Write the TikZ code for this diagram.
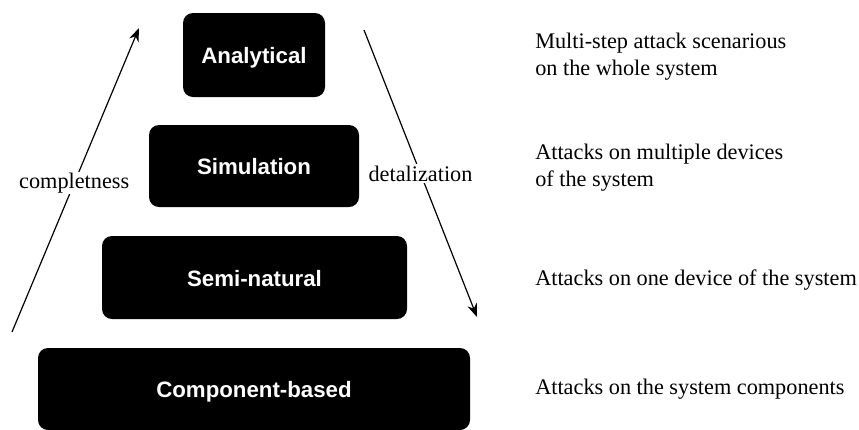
\documentclass[tikz,border=0pt]{standalone}
\usepackage{fontspec}
\setmainfont{Liberation Serif}
\setsansfont{Liberation Sans}
\usetikzlibrary{arrows.meta}
\begin{document}
\begin{tikzpicture}[x=0.75pt,y=-0.75pt,
    level/.style={fill=black,text=white,rounded corners=7.5pt,inner sep=0pt,
        text height=13pt,text depth=0pt,
        font=\sffamily\bfseries\fontsize{16.7}{20}\selectfont},
    note/.style={anchor=west,align=left,inner sep=0pt,
        font=\fontsize{16.7}{20.25}\selectfont},
    trend/.style={line width=0.9pt,-{Stealth[length=10pt,width=7.5pt]}},
    trendlabel/.style={fill=white,inner sep=1pt,font=\fontsize{16.7}{20}\selectfont}]
    \useasboundingbox (0,0) rectangle (859,429);

    % Draw levels
    \node[level,minimum width=142pt*0.75,minimum height=84pt*0.75] (analytical) at (254,55) {Analytical};
    \node[level,minimum width=210pt*0.75,minimum height=82pt*0.75] (simulation) at (254,166) {Simulation};
    \node[level,minimum width=305pt*0.75,minimum height=83pt*0.75] (seminatural) at (254.5,277.5) {Semi-natural};
    \node[level,minimum width=432pt*0.75,minimum height=82pt*0.75] (component) at (254,389) {Component-based};

    % Arrows
    \coordinate (compl low) at (12,332);
    \coordinate (compl high) at (139,28);
    \coordinate (detal high) at (364,30);
    \coordinate (detal low) at (477,317);
    \draw[trend] (compl low) -- node[trendlabel,pos=0.49] (completness) {completness} (compl high);
    \draw[trend] (detal high) -- node[trendlabel,pos=0.5] (detalization) {detalization} (detal low);

    % Descriptions
    \node[note] (analytical note) at (535,57) {Multi-step attack scenarious\\on the whole system};
    \node[note] (simulation note) at (535,168) {Attacks on multiple devices\\of the system};
    \node[note] (seminatural note) at (535,280) {Attacks on one device of the system};
    \node[note] (component note) at (535,389) {Attacks on the system components};
\end{tikzpicture}
\end{document}
